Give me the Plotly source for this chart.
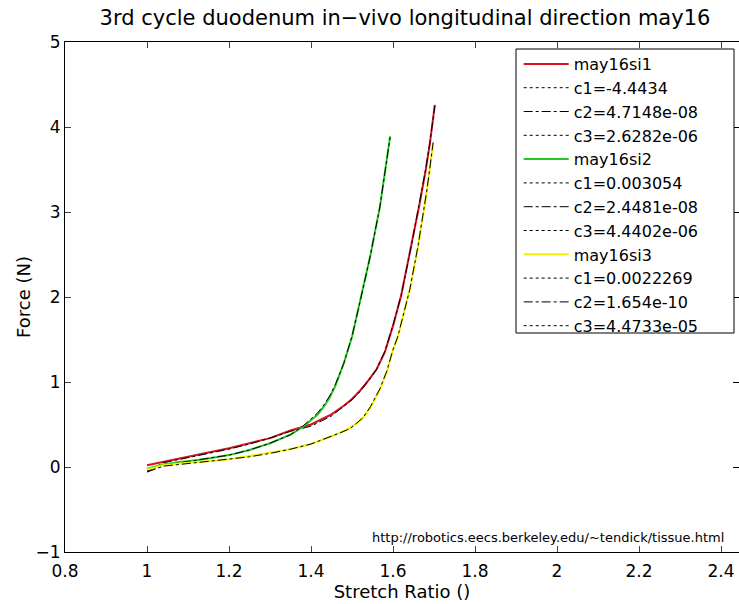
import plotly.graph_objects as go

# ---------------- data ----------------
si1_x = [1.00, 1.04, 1.08, 1.12, 1.16, 1.20, 1.25, 1.30, 1.35, 1.40, 1.45, 1.48, 1.50, 1.52, 1.54, 1.56, 1.58, 1.60, 1.62, 1.645, 1.665, 1.68, 1.69, 1.702]
si1_y = [0.02, 0.06, 0.10, 0.14, 0.18, 0.22, 0.28, 0.34, 0.43, 0.50, 0.62, 0.72, 0.80, 0.90, 1.02, 1.15, 1.35, 1.66, 2.02, 2.60, 3.10, 3.50, 3.81, 4.26]
fit1_y = [-0.05, 0.05, 0.09, 0.13, 0.17, 0.21, 0.27, 0.34, 0.42, 0.48, 0.60, 0.71, 0.79, 0.89, 1.01, 1.15, 1.36, 1.67, 2.02, 2.61, 3.11, 3.51, 3.82, 4.25]

si2_x = [1.00, 1.04, 1.08, 1.12, 1.16, 1.20, 1.25, 1.30, 1.35, 1.38, 1.415, 1.43, 1.446, 1.46, 1.48, 1.50, 1.52, 1.544, 1.568, 1.58, 1.593]
si2_y = [-0.02, 0.03, 0.06, 0.08, 0.11, 0.14, 0.20, 0.28, 0.38, 0.47, 0.61, 0.70, 0.82, 0.96, 1.22, 1.53, 1.96, 2.47, 3.06, 3.45, 3.89]
fit2_y = [-0.05, 0.02, 0.05, 0.08, 0.11, 0.14, 0.20, 0.28, 0.38, 0.48, 0.63, 0.72, 0.84, 0.98, 1.22, 1.54, 1.95, 2.47, 3.06, 3.45, 3.88]

si3_x = [1.00, 1.04, 1.08, 1.12, 1.16, 1.20, 1.25, 1.30, 1.35, 1.40, 1.446, 1.47, 1.495, 1.51, 1.527, 1.545, 1.568, 1.585, 1.60, 1.612, 1.634, 1.641, 1.661, 1.683, 1.698]
si3_y = [-0.03, 0.02, 0.04, 0.06, 0.07, 0.09, 0.13, 0.17, 0.21, 0.27, 0.35, 0.40, 0.46, 0.51, 0.58, 0.70, 0.91, 1.12, 1.38, 1.53, 1.96, 2.08, 2.59, 3.26, 3.81]
fit3_y = [-0.06, 0.01, 0.03, 0.05, 0.07, 0.09, 0.12, 0.16, 0.21, 0.27, 0.35, 0.40, 0.45, 0.51, 0.58, 0.71, 0.92, 1.13, 1.38, 1.54, 1.96, 2.09, 2.60, 3.27, 3.82]

series_names = ["may16si1", "may16si2", "may16si3"]
coef_labels = [
    ["c1=-4.4434", "c2=4.7148e-08", "c3=2.6282e-06"],
    ["c1=0.003054", "c2=2.4481e-08", "c3=4.4402e-06"],
    ["c1=0.0022269", "c2=1.654e-10", "c3=4.4733e-05"],
]
x_ticks = [0.8, 1.0, 1.2, 1.4, 1.6, 1.8, 2.0, 2.2, 2.4]
y_ticks = [-1, 0, 1, 2, 3, 4, 5]

title_text = "3rd cycle duodenum in\u2212vivo longitudinal direction may16"
x_title = "Stretch Ratio ()"
y_title = "Force (N)"
url_text = "http://robotics.eecs.berkeley.edu/~tendick/tissue.html"

# ---------------- figure ----------------
colors = ["#d81020", "#22c822", "#f4f000"]
FONT = "DejaVu Sans"

fig = go.Figure()
data = [(si1_x, si1_y, fit1_y), (si2_x, si2_y, fit2_y), (si3_x, si3_y, fit3_y)]
for i, (xs, ys, fs) in enumerate(data):
    fig.add_trace(go.Scatter(x=xs, y=ys, mode="lines", name=series_names[i],
                             line=dict(color=colors[i], width=2)))
    fig.add_trace(go.Scatter(x=[None], y=[None], mode="lines", name=coef_labels[i][0],
                             line=dict(color="black", width=1, dash="dot")))
    fig.add_trace(go.Scatter(x=xs, y=fs, mode="lines", name=coef_labels[i][1],
                             line=dict(color="black", width=1, dash="dashdot")))
    fig.add_trace(go.Scatter(x=[None], y=[None], mode="lines", name=coef_labels[i][2],
                             line=dict(color="black", width=1, dash="dot")))

# invisible trace to activate right-side tick axis
fig.add_trace(go.Scatter(x=[None], y=[None], yaxis="y2", showlegend=False, hoverinfo="skip"))

W, H = 739, 604
L, T, R = 65, 42, 0
B = H - 552
PW, PH = W - L - R, H - T - B
x_max = 0.8 + PW / 410.0


def px(xr):
    return (xr - L) / PW


def py(yr):
    return (H - B - yr) / PH


fig.update_layout(
    width=W, height=H,
    margin=dict(l=L, r=R, t=T, b=B),
    paper_bgcolor="white", plot_bgcolor="white",
    font=dict(family=FONT, size=17, color="black"),
    title=dict(text=title_text, x=405 / W, xref="container", xanchor="center",
               y=1 - 18 / H, yref="container", yanchor="middle",
               font=dict(family=FONT, size=21, color="black")),
    xaxis=dict(range=[0.8, x_max], tickvals=x_ticks, ticks="inside", ticklen=6,
               showline=True, linecolor="black", linewidth=1, mirror="ticks",
               showgrid=False, zeroline=False, tickfont=dict(size=17),
               ticklabelstandoff=4,
               title=dict(text=x_title, standoff=0, font=dict(size=18))),
    yaxis=dict(range=[-1, 5], tickvals=y_ticks, ticks="inside", ticklen=6,
               showline=True, linecolor="black", linewidth=1, mirror=False,
               showgrid=False, zeroline=False, tickfont=dict(size=17),
               title=dict(text=y_title, standoff=0, font=dict(size=18))),
    yaxis2=dict(range=[-1, 5], tickvals=y_ticks, ticks="inside", ticklen=6,
                overlaying="y", side="right", anchor="x", showline=False,
                showticklabels=False, showgrid=False, zeroline=False, tickcolor="black"),
    showlegend=True,
    legend=dict(x=px(516) + 0.004, y=py(47),
                xanchor="left", yanchor="top", bgcolor="rgba(0,0,0,0)", borderwidth=0,
                font=dict(family=FONT, size=16, color="black"), itemwidth=45,
                tracegroupgap=0),
    shapes=[dict(type="rect", xref="paper", yref="paper",
                 x0=px(516), x1=px(734), y0=py(333), y1=py(49),
                 line=dict(color="black", width=1), fillcolor="white", layer="above")],
    annotations=[dict(text=url_text, x=px(726), y=py(537),
                      xref="paper", yref="paper", xanchor="right", yanchor="middle",
                      showarrow=False, font=dict(family=FONT, size=13, color="black"))],
)

# remove the default 8px page margin so the figure fills the 739x604 window
page_fix = ("document.body.style.margin='0px';"
            "document.body.style.overflow='hidden';"
            "document.documentElement.style.overflow='hidden';")
fig.write_html("out.html", post_script=page_fix, config={"displayModeBar": False})
